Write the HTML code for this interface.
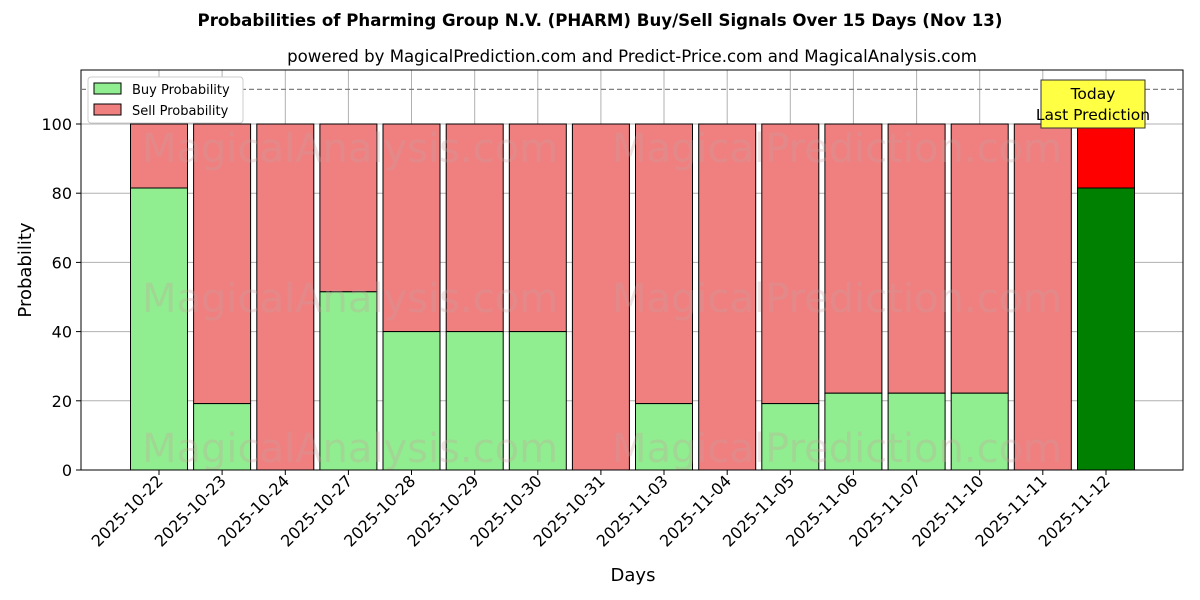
<!DOCTYPE html>
<html><head><meta charset="utf-8"><style>body{margin:0;background:#fff}svg{display:block;font-family:"DejaVu Sans","Liberation Sans",sans-serif}</style></head><body>
<svg width="1200" height="600" xmlns="http://www.w3.org/2000/svg">
<rect width="1200" height="600" fill="#fff"/>
<text x="600" y="26" text-anchor="middle" font-size="16.6" font-weight="bold">Probabilities of Pharming Group N.V. (PHARM) Buy/Sell Signals Over 15 Days (Nov 13)</text>
<text x="632" y="62" text-anchor="middle" font-size="16.6">powered by MagicalPrediction.com and Predict-Price.com and MagicalAnalysis.com</text>
<g stroke="#b0b0b0" stroke-width="1">
<line x1="81" y1="470" x2="1183" y2="470"/><line x1="81" y1="400.8" x2="1183" y2="400.8"/><line x1="81" y1="331.6" x2="1183" y2="331.6"/><line x1="81" y1="262.4" x2="1183" y2="262.4"/><line x1="81" y1="193.2" x2="1183" y2="193.2"/><line x1="81" y1="124" x2="1183" y2="124"/>
<line x1="159" y1="70" x2="159" y2="470"/><line x1="222.1" y1="70" x2="222.1" y2="470"/><line x1="285.3" y1="70" x2="285.3" y2="470"/><line x1="348.4" y1="70" x2="348.4" y2="470"/><line x1="411.5" y1="70" x2="411.5" y2="470"/><line x1="474.7" y1="70" x2="474.7" y2="470"/><line x1="537.8" y1="70" x2="537.8" y2="470"/><line x1="600.9" y1="70" x2="600.9" y2="470"/><line x1="664" y1="70" x2="664" y2="470"/><line x1="727.2" y1="70" x2="727.2" y2="470"/><line x1="790.3" y1="70" x2="790.3" y2="470"/><line x1="853.4" y1="70" x2="853.4" y2="470"/><line x1="916.6" y1="70" x2="916.6" y2="470"/><line x1="979.7" y1="70" x2="979.7" y2="470"/><line x1="1042.8" y1="70" x2="1042.8" y2="470"/><line x1="1106" y1="70" x2="1106" y2="470"/>
</g>
<g stroke="#000" stroke-width="1">
<rect x="130.5" y="124" width="57" height="64" fill="#f08080"/><rect x="130.5" y="188" width="57" height="282" fill="#90ee90"/>
<rect x="193.6" y="124" width="57" height="279.6" fill="#f08080"/><rect x="193.6" y="403.6" width="57" height="66.4" fill="#90ee90"/>
<rect x="256.8" y="124" width="57" height="346" fill="#f08080"/>
<rect x="319.9" y="124" width="57" height="167.8" fill="#f08080"/><rect x="319.9" y="291.8" width="57" height="178.2" fill="#90ee90"/>
<rect x="383" y="124" width="57" height="207.6" fill="#f08080"/><rect x="383" y="331.6" width="57" height="138.4" fill="#90ee90"/>
<rect x="446.2" y="124" width="57" height="207.6" fill="#f08080"/><rect x="446.2" y="331.6" width="57" height="138.4" fill="#90ee90"/>
<rect x="509.3" y="124" width="57" height="207.6" fill="#f08080"/><rect x="509.3" y="331.6" width="57" height="138.4" fill="#90ee90"/>
<rect x="572.4" y="124" width="57" height="346" fill="#f08080"/>
<rect x="635.5" y="124" width="57" height="279.6" fill="#f08080"/><rect x="635.5" y="403.6" width="57" height="66.4" fill="#90ee90"/>
<rect x="698.7" y="124" width="57" height="346" fill="#f08080"/>
<rect x="761.8" y="124" width="57" height="279.6" fill="#f08080"/><rect x="761.8" y="403.6" width="57" height="66.4" fill="#90ee90"/>
<rect x="824.9" y="124" width="57" height="269.2" fill="#f08080"/><rect x="824.9" y="393.2" width="57" height="76.8" fill="#90ee90"/>
<rect x="888.1" y="124" width="57" height="269.2" fill="#f08080"/><rect x="888.1" y="393.2" width="57" height="76.8" fill="#90ee90"/>
<rect x="951.2" y="124" width="57" height="269.2" fill="#f08080"/><rect x="951.2" y="393.2" width="57" height="76.8" fill="#90ee90"/>
<rect x="1014.3" y="124" width="57" height="346" fill="#f08080"/>
<rect x="1077.5" y="124" width="57" height="64" fill="#ff0000"/><rect x="1077.5" y="188" width="57" height="282" fill="#008000"/>
</g>
<g font-size="40" fill="#c8a0a0" opacity="0.3" text-anchor="middle">
<text x="350" y="162">MagicalAnalysis.com</text><text x="837" y="162">MagicalPrediction.com</text>
<text x="350" y="312">MagicalAnalysis.com</text><text x="837" y="312">MagicalPrediction.com</text>
<text x="350" y="462">MagicalAnalysis.com</text><text x="837" y="462">MagicalPrediction.com</text>
</g>
<rect x="81" y="70" width="1102" height="400" fill="none" stroke="#000" stroke-width="1"/>
<line x1="81" y1="89.4" x2="1183" y2="89.4" stroke="#808080" stroke-dasharray="5,3" stroke-width="1.2"/>
<rect x="1041" y="80" width="104" height="48" fill="#ffff44" stroke="#333"/>
<text x="1093" y="99" text-anchor="middle" font-size="15.5">Today</text>
<text x="1093" y="120" text-anchor="middle" font-size="15.5">Last Prediction</text>
<rect x="88" y="77" width="155" height="46" fill="#fff" stroke="#ccc" rx="3"/>
<rect x="94" y="83" width="27" height="11" fill="#90ee90" stroke="#000"/>
<text x="132" y="94" font-size="13">Buy Probability</text>
<rect x="94" y="104" width="27" height="11" fill="#f08080" stroke="#000"/>
<text x="132" y="115" font-size="13">Sell Probability</text>
<text x="31" y="270" font-size="18" text-anchor="middle" transform="rotate(-90 31 270)">Probability</text>
<text x="633" y="581" font-size="18" text-anchor="middle">Days</text>
<g stroke="#000">
<line x1="76" y1="470" x2="81" y2="470"/><line x1="76" y1="400.8" x2="81" y2="400.8"/><line x1="76" y1="331.6" x2="81" y2="331.6"/><line x1="76" y1="262.4" x2="81" y2="262.4"/><line x1="76" y1="193.2" x2="81" y2="193.2"/><line x1="76" y1="124" x2="81" y2="124"/>
</g>
<g font-size="16" text-anchor="end">
<text x="72" y="476">0</text><text x="72" y="406.8">20</text><text x="72" y="337.6">40</text><text x="72" y="268.4">60</text><text x="72" y="199.2">80</text><text x="72" y="130">100</text>
</g>
<g font-size="16" text-anchor="end">
<text transform="translate(164,482) rotate(-45)">2025-10-22</text>
<text transform="translate(227.1,482) rotate(-45)">2025-10-23</text>
<text transform="translate(290.3,482) rotate(-45)">2025-10-24</text>
<text transform="translate(353.4,482) rotate(-45)">2025-10-27</text>
<text transform="translate(416.5,482) rotate(-45)">2025-10-28</text>
<text transform="translate(479.7,482) rotate(-45)">2025-10-29</text>
<text transform="translate(542.8,482) rotate(-45)">2025-10-30</text>
<text transform="translate(605.9,482) rotate(-45)">2025-10-31</text>
<text transform="translate(669,482) rotate(-45)">2025-11-03</text>
<text transform="translate(732.2,482) rotate(-45)">2025-11-04</text>
<text transform="translate(795.3,482) rotate(-45)">2025-11-05</text>
<text transform="translate(858.4,482) rotate(-45)">2025-11-06</text>
<text transform="translate(921.6,482) rotate(-45)">2025-11-07</text>
<text transform="translate(984.7,482) rotate(-45)">2025-11-10</text>
<text transform="translate(1047.8,482) rotate(-45)">2025-11-11</text>
<text transform="translate(1111,482) rotate(-45)">2025-11-12</text>
</g>
<g stroke="#000">
<line x1="159" y1="470" x2="159" y2="475"/><line x1="222.1" y1="470" x2="222.1" y2="475"/><line x1="285.3" y1="470" x2="285.3" y2="475"/><line x1="348.4" y1="470" x2="348.4" y2="475"/><line x1="411.5" y1="470" x2="411.5" y2="475"/><line x1="474.7" y1="470" x2="474.7" y2="475"/><line x1="537.8" y1="470" x2="537.8" y2="475"/><line x1="600.9" y1="470" x2="600.9" y2="475"/><line x1="664" y1="470" x2="664" y2="475"/><line x1="727.2" y1="470" x2="727.2" y2="475"/><line x1="790.3" y1="470" x2="790.3" y2="475"/><line x1="853.4" y1="470" x2="853.4" y2="475"/><line x1="916.6" y1="470" x2="916.6" y2="475"/><line x1="979.7" y1="470" x2="979.7" y2="475"/><line x1="1042.8" y1="470" x2="1042.8" y2="475"/><line x1="1106" y1="470" x2="1106" y2="475"/>
</g>
</svg></body></html>
